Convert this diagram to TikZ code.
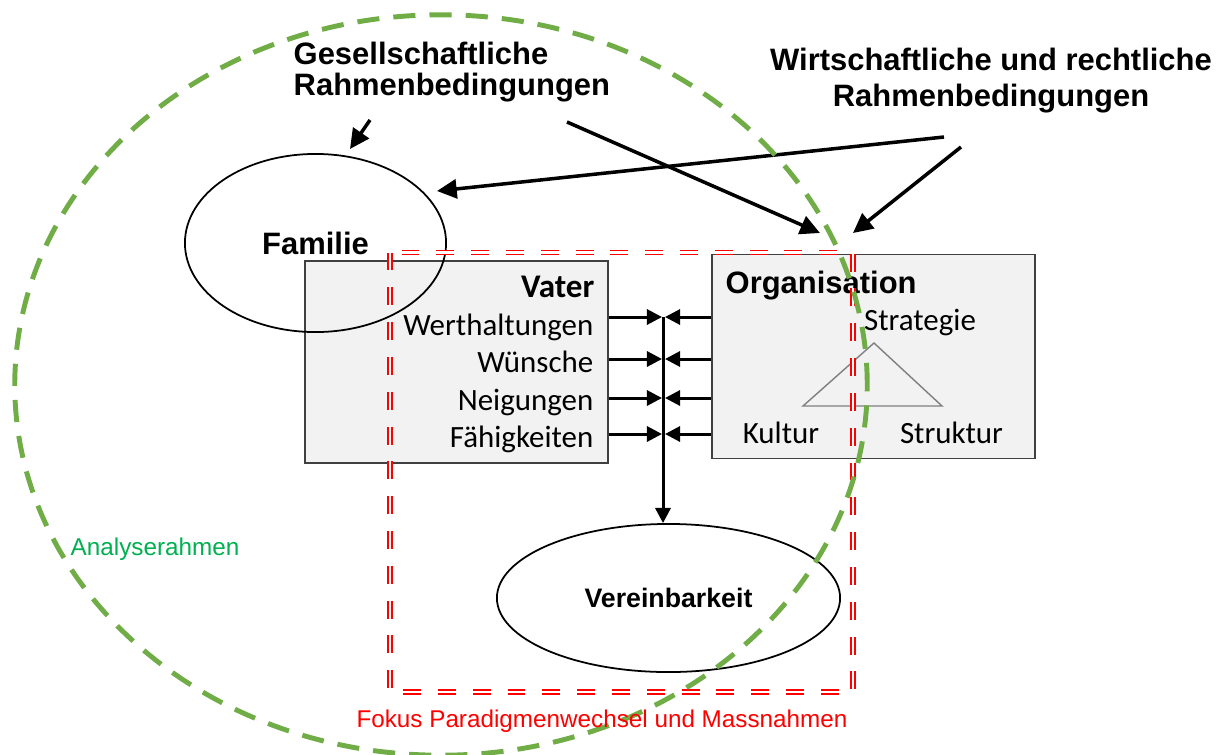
\documentclass[tikz,border=0pt]{standalone}
\usepackage{fontspec}
\setmainfont{Liberation Sans}
\newfontfamily\calfont{Carlito}
\usetikzlibrary{arrows.meta,shapes.geometric}
\definecolor{rahmengreen}{RGB}{112,173,71}
\definecolor{textgreen}{RGB}{0,176,80}
\definecolor{boxgray}{RGB}{242,242,242}
\definecolor{boxline}{RGB}{64,64,64}

\begin{document}
\begin{tikzpicture}[x=0.01cm, y=-0.01cm,
        box/.style = {draw=boxline, line width=0.45pt, fill=boxgray, inner sep=0pt},
        oval/.style = {draw, ellipse, line width=0.5pt, inner sep=0pt},
        head/.style = {font=\fontsize{8.8}{8.8}\selectfont\bfseries, inner sep=0pt},
        item/.style = {font=\fontsize{8.8}{8.8}\selectfont\calfont, inner sep=0pt},
        note/.style = {font=\fontsize{6.9}{6.9}\selectfont, inner sep=0pt},
        bigarrow/.style = {-{Triangle[length=5.6pt, width=5.4pt]}, line width=1pt},
        smallarrow/.style = {-{Triangle[length=4.3pt, width=4.3pt]}, line width=0.85pt}]
        \useasboundingbox (0,0) rectangle (1230,754);

        % Kästen
        \node[box, minimum width=3.03cm, minimum height=2.02cm] (vater) at (456.5,362) {};
        \node[box, minimum width=3.23cm, minimum height=2.04cm] (orga) at (873.5,356.5) {};

        % Ellipsen
        \node[oval, minimum width=2.61cm, minimum height=1.78cm, head] (familie) at (315.5,243) {Familie};
        \node[oval, fill=white, minimum width=3.43cm, minimum height=1.48cm,
              font=\fontsize{7.6}{7.6}\selectfont\bfseries] (verein) at (668.5,598) {Vereinbarkeit};

        % Vater
        \node[head, anchor=base east] (vatertitel) at (595,297) {\fontsize{9.4}{9.4}\selectfont\calfont\bfseries Vater};
        \node[item, anchor=base east] (werte) at (594,335) {Werthaltungen};
        \node[item, anchor=base east] (wuensche) at (594,372) {Wünsche};
        \node[item, anchor=base east] (neigung) at (594,410) {Neigungen};
        \node[item, anchor=base east] (faehig) at (594,447) {Fähigkeiten};

        % Organisation
        \node[head, anchor=base west] (orgtitel) at (725,293) {Organisation};
        \node[item, anchor=base] (strategie) at (920,330) {Strategie};
        \node[item, anchor=base] (kultur) at (781,443) {Kultur};
        \node[item, anchor=base] (struktur) at (951.5,443) {Struktur};
        \draw[gray, line width=0.4pt] (874,343) -- (803,406) -- (942,406) -- cycle;

        % Rahmenbedingungen
        \node[head, anchor=base west, align=left] (gesell) at (293,95)
            {Gesellschaftliche\\Rahmenbedingungen};
        \node[head, anchor=base, align=center, font=\fontsize{8.8}{10}\selectfont\bfseries] (wirt) at (991,106)
            {Wirtschaftliche und rechtliche\\Rahmenbedingungen};

        \coordinate (g1) at (370,120);
        \coordinate (g2) at (567,122);
        \coordinate (w1) at (944,137);
        \coordinate (w2) at (961,147);
        \coordinate (famtop) at (350,149);
        \coordinate (famright) at (437,191);
        \coordinate (orgtop1) at (820,233);
        \coordinate (orgtop2) at (853,233);
        \draw[bigarrow] (g1) -- (famtop);
        \draw[bigarrow] (g2) -- (orgtop1);
        \draw[bigarrow] (w1) -- (famright);
        \draw[bigarrow] (w2) -- (orgtop2);

        % Verbindungen zur Vereinbarkeit
        \coordinate (j1) at (663,317);
        \coordinate (j2) at (663,359);
        \coordinate (j3) at (663,398);
        \coordinate (j4) at (663,434);
        \draw[smallarrow] (vater.east |- j1) -- ([xshift=-0.01cm]j1);
        \draw[smallarrow] (vater.east |- j2) -- ([xshift=-0.01cm]j2);
        \draw[smallarrow] (vater.east |- j3) -- ([xshift=-0.01cm]j3);
        \draw[smallarrow] (vater.east |- j4) -- ([xshift=-0.01cm]j4);
        \draw[smallarrow] (orga.west |- j1) -- ([xshift=0.02cm]j1);
        \draw[smallarrow] (orga.west |- j2) -- ([xshift=0.02cm]j2);
        \draw[smallarrow] (orga.west |- j3) -- ([xshift=0.02cm]j3);
        \draw[smallarrow] (orga.west |- j4) -- ([xshift=0.02cm]j4);
        \draw[smallarrow] (j1) -- (j1 |- verein.north);

        % Fokus und Analyserahmen
        \draw[red, line width=0.55pt, double=white, double distance=0.6pt,
              dash pattern=on 5.1pt off 4.8pt] (390,252.5) rectangle (853,692);
        \draw[rahmengreen, line width=1.4pt, dash pattern=on 6.3pt off 4pt]
            (441,385) ellipse [x radius=4.26cm, y radius=3.7cm];

        \node[note, text=red, anchor=base] (fokus) at (602,727) {Fokus Paradigmenwechsel und Massnahmen};
        \node[note, text=textgreen, anchor=base west] (analyse) at (70,555) {Analyserahmen};
\end{tikzpicture}
\end{document}
